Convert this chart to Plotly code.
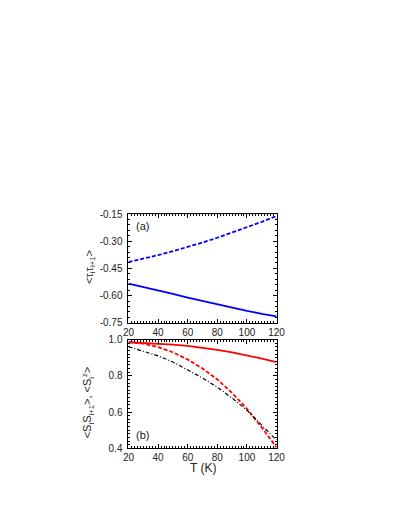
import plotly.graph_objects as go

# temperature grid (K)
T = [20, 30, 40, 50, 60, 70, 80, 90, 100, 110, 120]

# panel (a): orbital correlations
tau_dashed = [-0.415, -0.397, -0.377, -0.355, -0.332, -0.307, -0.281, -0.253, -0.224, -0.193, -0.161]
tau_solid = [-0.534, -0.552, -0.571, -0.591, -0.611, -0.630, -0.649, -0.667, -0.684, -0.700, -0.714]

# panel (b): spin correlations and magnetization
ss_solid = [0.985, 0.982, 0.978, 0.972, 0.965, 0.955, 0.943, 0.929, 0.913, 0.895, 0.875]
ss_dashed = [0.985, 0.977, 0.958, 0.930, 0.890, 0.840, 0.780, 0.705, 0.618, 0.515, 0.405]
sz_dashdot = [0.960, 0.937, 0.910, 0.876, 0.833, 0.788, 0.737, 0.677, 0.610, 0.530, 0.445]

# tick labels
x_ticks = [20, 40, 60, 80, 100, 120]
ya_ticks = [-0.75, -0.60, -0.45, -0.30, -0.15]
ya_labels = ['-0.75', '-0.60', '-0.45', '-0.30', '-0.15']
yb_ticks = [0.4, 0.6, 0.8, 1.0]

# page has an 8px body margin, so the figure is a bit smaller than the window
OFF = 8
W, H = 409 - 2 * OFF, 529 - 2 * OFF


def px(x):
    return (x - OFF) / W


def py(y):
    return 1 - (y - OFF) / H


x_dom = [px(127), px(281)]
ya_dom = [py(324), py(213)]
yb_dom = [py(452), py(341)]

fig = go.Figure()
fig.add_trace(go.Scatter(x=T, y=tau_dashed, mode='lines', xaxis='x', yaxis='y',
                         line=dict(color='#0000ff', width=1.8, dash='4px,2px')))
fig.add_trace(go.Scatter(x=T, y=tau_solid, mode='lines', xaxis='x', yaxis='y',
                         line=dict(color='#0000ff', width=1.8)))
fig.add_trace(go.Scatter(x=T, y=ss_solid, mode='lines', xaxis='x2', yaxis='y2',
                         line=dict(color='#ff0000', width=1.8)))
fig.add_trace(go.Scatter(x=T, y=ss_dashed, mode='lines', xaxis='x2', yaxis='y2',
                         line=dict(color='#ff0000', width=1.8, dash='4px,2px')))
fig.add_trace(go.Scatter(x=T, y=sz_dashdot, mode='lines', xaxis='x2', yaxis='y2',
                         line=dict(color='#000000', width=1.2, dash='4px,2px,1px,2px')))

tick_font = dict(family='Liberation Sans, Arial, sans-serif', size=10, color='#222')
common = dict(showline=True, linecolor='black', linewidth=1, mirror='ticks',
              ticks='inside', ticklen=4, tickcolor='black', showgrid=False,
              zeroline=False, tickfont=tick_font)
minor_x = dict(dtick=2, ticks='inside', ticklen=2, tickcolor='black')

fig.update_layout(
    width=W, height=H,
    margin=dict(l=0, r=0, t=0, b=0),
    paper_bgcolor='white', plot_bgcolor='white',
    showlegend=False,
    xaxis=dict(domain=x_dom, anchor='y', range=[20, 120], tickvals=x_ticks,
               minor=minor_x, **common),
    yaxis=dict(domain=ya_dom, anchor='x', range=[-0.75, -0.15],
               tickvals=ya_ticks, ticktext=ya_labels, ticklabelstandoff=3,
               minor=dict(dtick=0.03, ticks='inside', ticklen=2, tickcolor='black'), **common),
    xaxis2=dict(domain=x_dom, anchor='y2', range=[20, 120], tickvals=x_ticks,
                minor=minor_x, **common),
    yaxis2=dict(domain=yb_dom, anchor='x2', range=[0.4, 1.0],
                tickvals=yb_ticks, tickformat='.1f', ticklabelstandoff=3,
                minor=dict(dtick=0.02, ticks='inside', ticklen=2, tickcolor='black'), **common),
)

label_font = dict(family='Liberation Sans, Arial, sans-serif', size=11, color='#222')


def note(x, y, text, font=label_font, angle=0):
    fig.add_annotation(x=px(x), y=py(y), xref='paper', yref='paper', text=text,
                       xanchor='center', yanchor='middle', textangle=angle,
                       showarrow=False, font=font)


note(142, 225, '(a)')
note(142, 438, '(b)')
note(87, 267, '&lt;τ<sub>i</sub>τ<sub>i+1</sub>&gt;', angle=-90)
note(85, 405, '&lt;S<sub>i</sub>S<sub>i+1</sub>&gt;, &lt;S<sub>i</sub><sup>z</sup>&gt;', angle=-90)
note(204, 472, 'T (K)', font=dict(family='Liberation Sans, Arial, sans-serif', size=12, color='#222'))

fig.write_html("out.html")
